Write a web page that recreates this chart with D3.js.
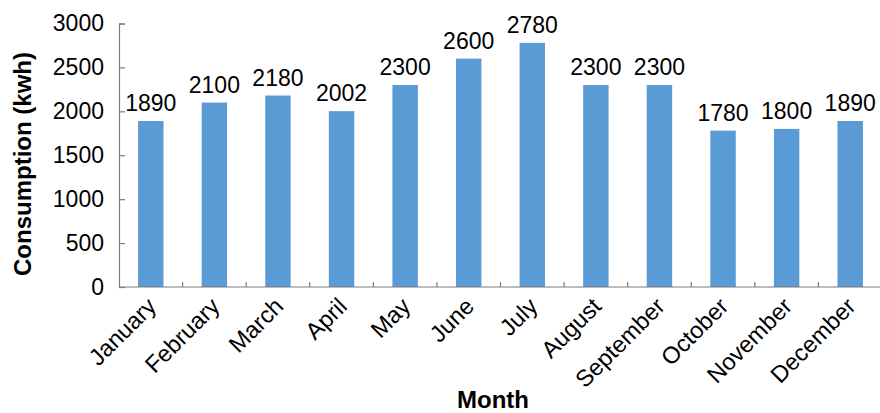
<!DOCTYPE html>
<html>
<head>
<meta charset="utf-8">
<script src="https://cdn.jsdelivr.net/npm/d3@7"></script>
<style>
  html, body { margin: 0; padding: 0; background: #fff; }
  svg { display: block; font-family: "Liberation Sans", Arial, sans-serif; }
</style>
</head>
<body>
<svg id="chart" width="880" height="413"></svg>
<script>
// Monthly electricity consumption
const months = ["January", "February", "March", "April", "May", "June",
                "July", "August", "September", "October", "November", "December"];
const consumption = [1890, 2100, 2180, 2002, 2300, 2600, 2780, 2300, 2300, 1780, 1800, 1890];
const yTicks = [0, 500, 1000, 1500, 2000, 2500, 3000];
const xTitle = "Month";
const yTitle = "Consumption (kwh)";

const svg = d3.select("#chart");
const plotLeft = 119, plotRight = 882, plotTop = 23.5, plotBottom = 287;
const axisColor = "#7a7a7a";
const barColor = "#5b9bd5";
const font = "Liberation Sans, Arial, sans-serif";

const x = d3.scaleBand().domain(months).range([plotLeft, plotRight]).paddingInner(0.6).paddingOuter(0.3);
const y = d3.scaleLinear().domain([0, 3000]).range([plotBottom, plotTop]);

// bars
svg.append("g").selectAll("rect")
  .data(months)
  .join("rect")
  .attr("x", d => x(d))
  .attr("width", x.bandwidth())
  .attr("y", (d, i) => y(consumption[i]))
  .attr("height", (d, i) => y(0) - y(consumption[i]))
  .attr("fill", barColor);

// value labels
svg.append("g").selectAll("text")
  .data(months)
  .join("text")
  .attr("x", d => x(d) + x.bandwidth() / 2)
  .attr("y", (d, i) => y(consumption[i]) - 10)
  .attr("text-anchor", "middle")
  .attr("font-size", 23)
  .attr("fill", "#000")
  .text((d, i) => consumption[i]);

// y axis, ticks pointing into the plot
const yAxis = svg.append("g")
  .attr("transform", `translate(${plotLeft},0)`)
  .call(d3.axisLeft(y).tickValues(yTicks).tickFormat(d3.format("d")).tickSize(-6).tickPadding(15));
yAxis.select(".domain").attr("stroke", axisColor).attr("stroke-width", 1.2);
yAxis.selectAll(".tick line").attr("stroke", axisColor).attr("stroke-width", 1.2);
yAxis.selectAll(".tick text")
  .attr("font-size", 23)
  .attr("font-family", font)
  .attr("fill", "#000");

// x axis: baseline with tick marks between categories
const step = x.step();
const boundaries = d3.range(1, months.length).map(i => plotLeft + i * step);
svg.append("line")
  .attr("x1", plotLeft).attr("x2", 880)
  .attr("y1", plotBottom).attr("y2", plotBottom)
  .attr("stroke", axisColor).attr("stroke-width", 1.2);
svg.append("g").selectAll("line")
  .data(boundaries)
  .join("line")
  .attr("x1", d => d).attr("x2", d => d)
  .attr("y1", plotBottom).attr("y2", plotBottom - 5)
  .attr("stroke", axisColor).attr("stroke-width", 1.2);

// month labels, rotated
svg.append("g").selectAll("text")
  .data(months)
  .join("text")
  .attr("transform", d => `translate(${x(d) + x.bandwidth() / 2 - 5},${plotBottom + 9}) rotate(-45)`)
  .attr("text-anchor", "end")
  .attr("dy", "0.71em")
  .attr("font-size", 23.5)
  .attr("fill", "#000")
  .text(d => d);

// axis titles
svg.append("text")
  .attr("x", 493).attr("y", 407.5)
  .attr("text-anchor", "middle")
  .attr("font-size", 24)
  .attr("font-weight", "bold")
  .text(xTitle);

svg.append("text")
  .attr("transform", `translate(31,164) rotate(-90)`)
  .attr("text-anchor", "middle")
  .attr("font-size", 24)
  .attr("font-weight", "bold")
  .text(yTitle);
</script>
</body>
</html>
